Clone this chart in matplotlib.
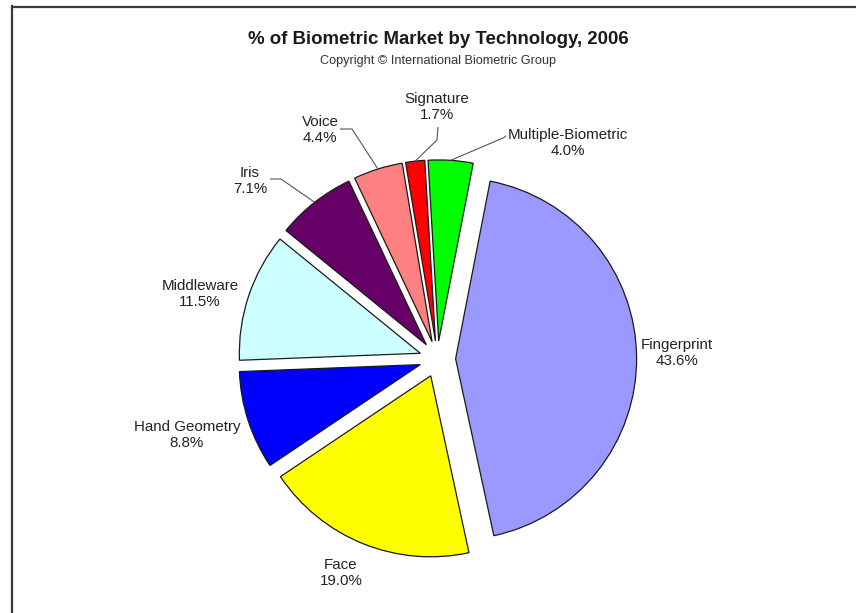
import numpy as np
import matplotlib
matplotlib.use("Agg")
import matplotlib.pyplot as plt
from matplotlib.lines import Line2D

# ---- data ----
categories = ["Fingerprint", "Face", "Hand Geometry", "Middleware", "Iris",
              "Voice", "Signature", "Multiple-Biometric"]
shares = [43.6, 19.0, 8.8, 11.5, 7.1, 4.4, 1.7, 4.0]
title = "% of Biometric Market by Technology, 2006"
subtitle = "Copyright \u00a9 International Biometric Group"

# ---- styles / layout (image pixel coordinates, y downwards) ----
colors = ["#9999FF", "#FFFF00", "#0000FF", "#CCFFFF", "#660066",
          "#FF8080", "#FF0000", "#00FF00"]
W, H = 856, 613
pie_center_img = (437.5, 359)
pie_radius = 181
explode_frac = 0.1
start_angle = 79
label_pos = {
    "Fingerprint": (677, 353),
    "Face": (341, 573),
    "Hand Geometry": (187, 435),
    "Middleware": (200, 294),
    "Iris": (250, 181),
    "Voice": (320, 130),
    "Signature": (437, 107),
    "Multiple-Biometric": (568, 143),
}
# leader lines: (start point, elbow point) near the label
leaders = {
    "Iris": ((270, 179), (281, 179)),
    "Voice": ((340, 129), (352, 129)),
    "Signature": ((438, 127), (437, 140)),
    "Multiple-Biometric": ((506, 136), (503, 138)),
}

plt.rcParams['font.family'] = ['Liberation Sans', 'DejaVu Sans']

fig = plt.figure(figsize=(W / 100, H / 100), dpi=100)
ax = fig.add_axes([0, 0, 1, 1])


def tp(p):
    return (p[0], H - p[1])


cx, cy = tp(pie_center_img)
wedges, _ = ax.pie(shares, colors=colors, startangle=start_angle, counterclock=False,
                   explode=[explode_frac * pie_radius] * len(shares),
                   radius=pie_radius, center=(cx, cy), frame=True,
                   wedgeprops=dict(edgecolor="#1a1a1a", linewidth=0.9))
ax.set_xlim(0, W)
ax.set_ylim(0, H)
ax.set_aspect('equal')
ax.axis('off')

for cat, val in zip(categories, shares):
    x, y = tp(label_pos[cat])
    ax.text(x, y, f"{cat}\n{val:.1f}%", ha='center', va='center',
            fontsize=10.9, color='#222222', linespacing=1.22)

for cat, (start, elbow) in leaders.items():
    w = wedges[categories.index(cat)]
    wc = np.array(w.center)
    ang = np.radians((w.theta1 + w.theta2) / 2)
    px = wc[0] + w.r * np.cos(ang)
    py = wc[1] + w.r * np.sin(ang)
    sx, sy = tp(start)
    ex, ey = tp(elbow)
    ax.plot([sx, ex, px], [sy, ey, py], color='#555555', lw=0.8,
            solid_capstyle='butt')

fig.text(438 / W, 1 - 39 / H, title, ha='center', va='center',
         fontsize=13.4, fontweight='bold', color='#1a1a1a')
fig.text(438 / W, 1 - 61 / H, subtitle, ha='center', va='center',
         fontsize=9.1, color='#333333')

# frame (left and top edges visible)
fig.add_artist(Line2D([12 / W, 12 / W], [0, 1 - 6 / H], transform=fig.transFigure,
                      color='#3a3a3a', lw=1.6))
fig.add_artist(Line2D([12 / W, 1], [1 - 6.5 / H, 1 - 6.5 / H], transform=fig.transFigure,
                      color='#3a3a3a', lw=1.6))

fig.savefig("out.png", dpi=100, facecolor='white')
